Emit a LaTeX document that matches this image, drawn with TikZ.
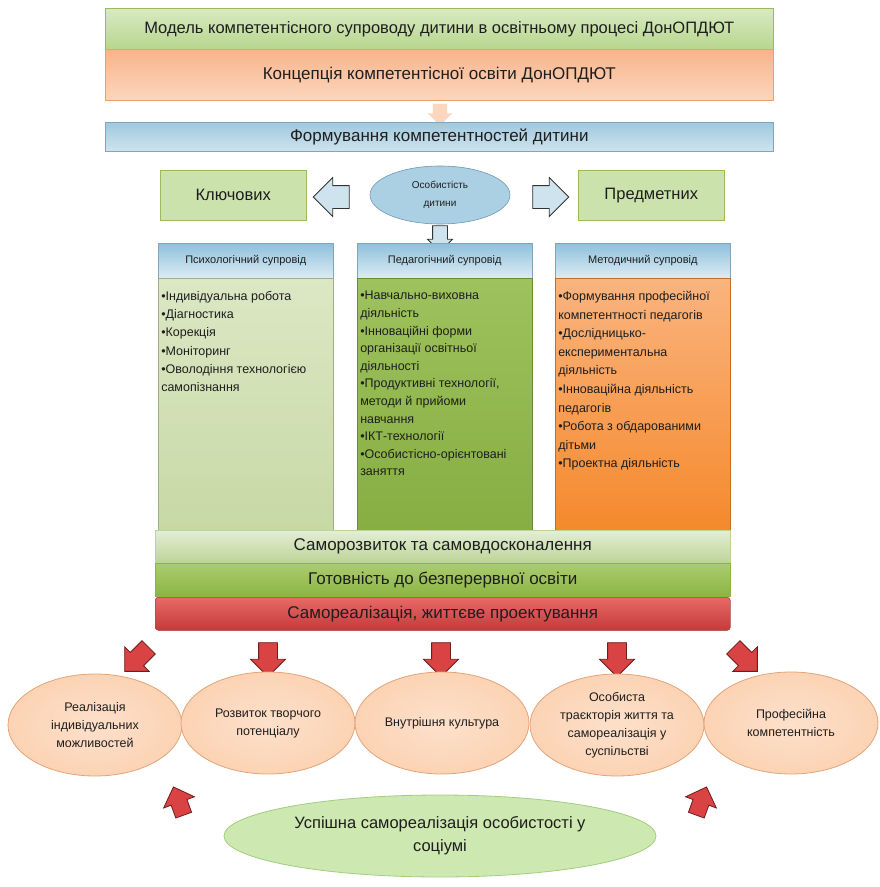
\documentclass[tikz,border=0pt]{standalone}
\usepackage{fontspec}
\setmainfont{Liberation Sans}
\usetikzlibrary{shapes.geometric,shapes.arrows}
\definecolor{gbTop}{HTML}{D8EAC2}
\definecolor{gbBot}{HTML}{B8D68E}
\definecolor{gbLine}{HTML}{9BBB59}
\definecolor{orTop}{HTML}{F8B48A}
\definecolor{orBot}{HTML}{FCD6BD}
\definecolor{orLine}{HTML}{E8A070}
\definecolor{blTop}{HTML}{9FC8DE}
\definecolor{blBot}{HTML}{CFE3EE}
\definecolor{blLine}{HTML}{7FA5BF}
\definecolor{hdTop}{HTML}{8FC0DB}
\definecolor{hdBot}{HTML}{DDECF4}
\definecolor{lgTop}{HTML}{DCE7C4}
\definecolor{lgBot}{HTML}{C7D9A5}
\definecolor{mgTop}{HTML}{9EC25E}
\definecolor{mgBot}{HTML}{86AE42}
\definecolor{rtTop}{HTML}{FAB47E}
\definecolor{rtBot}{HTML}{F5892C}
\definecolor{b1Top}{HTML}{E4EED6}
\definecolor{b1Bot}{HTML}{BCD496}
\definecolor{b2Top}{HTML}{ABCC70}
\definecolor{b2Bot}{HTML}{8BB542}
\definecolor{b3Top}{HTML}{E86A68}
\definecolor{b3Bot}{HTML}{C43A3A}
\definecolor{redFill}{HTML}{D94343}
\definecolor{redLine}{HTML}{6E1C1C}
\definecolor{pcFill}{HTML}{FCD3B4}
\definecolor{pcLine}{HTML}{E2A478}
\definecolor{fnFill}{HTML}{CDE8B0}
\definecolor{fnLine}{HTML}{A3CC80}
\definecolor{elFill}{HTML}{ABD0E3}
\definecolor{elLine}{HTML}{6F98B3}
\definecolor{txt}{HTML}{1E1E1E}
\begin{document}
\begin{tikzpicture}[x=1pt,y=-1pt,
  every node/.style={text=txt},
  box/.style={rectangle, inner sep=0pt, anchor=north west, align=center},
  bandfont/.style={font=\fontsize{17}{20}\selectfont},
  hdr/.style={box, draw=blLine, line width=0.5pt, top color=hdTop, bottom color=hdBot,
     minimum width=175pt, minimum height=35pt, font=\fontsize{11}{13}\selectfont},
  colbody/.style={box, line width=0.5pt, minimum width=175pt, minimum height=252pt},
  redarr/.style={single arrow, draw=redLine, fill=redFill, line width=0.8pt,
     minimum height=34pt, inner xsep=0pt, inner ysep=9pt, single arrow head extend=8pt},
  bluearr/.style={single arrow, draw=black!80, fill=blBot, line width=0.8pt,
     minimum height=36pt, inner xsep=0pt, inner ysep=11pt, single arrow head extend=8pt},
  pe/.style={ellipse, draw=pcLine, line width=0.8pt, inner color=pcFill!70!white, outer color=pcFill,
     minimum width=174pt, minimum height=102pt, inner sep=0pt, align=center,
     font=\fontsize{12.5}{18}\selectfont}
]
\useasboundingbox (0,0) rectangle (880,887);

% top bands
\node[box, draw=gbLine, line width=0.5pt, top color=gbTop, bottom color=gbBot,
  minimum width=668pt, minimum height=41pt, font=\fontsize{16.5}{20}\selectfont] (model) at (105,8)
  {Модель  компетентісного супроводу дитини  в освітньому процесі ДонОПДЮТ};
\node[box, draw=orLine, line width=0.5pt, top color=orTop, bottom color=orBot,
  minimum width=668pt, minimum height=51pt, bandfont] (concept) at (105,49)
  {Концепція компетентісної освіти  ДонОПДЮТ};
\node[single arrow, fill=orBot, draw=none, rotate=-90, minimum height=22pt, inner xsep=0pt,
  inner ysep=7pt, single arrow head extend=5pt] (oarr) at (440,111) {};
\node[box, draw=blLine, line width=0.5pt, top color=blTop, bottom color=blBot,
  minimum width=668pt, minimum height=29pt, bandfont] (form) at (105,122)
  {Формування компетентностей дитини};

% key / subject
\node[box, draw=gbLine, line width=0.5pt, fill=gbTop!60!gbBot,
  minimum width=146pt, minimum height=50pt, font=\fontsize{16.5}{20}\selectfont] (key) at (160,170) {Ключових};
\node[box, draw=gbLine, line width=0.5pt, fill=gbTop!60!gbBot,
  minimum width=146pt, minimum height=50pt, font=\fontsize{16.5}{20}\selectfont] (subj) at (578,170) {Предметних};
\node[ellipse, draw=elLine, line width=0.6pt, fill=elFill, minimum width=140pt, minimum height=58pt,
  inner sep=0pt, align=center, font=\fontsize{10}{18}\selectfont] (pers) at (440,195) {Особистість\\дитини};
\node[bluearr, rotate=180] (larr) at (337,197) {};
\node[bluearr] (rarr) at (545,197) {};
\node[single arrow, draw=black!80, fill=blBot, line width=0.8pt, rotate=-90, minimum height=26pt,
  inner xsep=0pt, inner ysep=7pt, single arrow head extend=5pt] (darr) at (440,235) {};

% column headers
\node[hdr] (h1) at (158,243) {Психологічний супровід};
\node[hdr] (h2) at (357,243) {Педагогічний супровід};
\node[hdr] (h3) at (555,243) {Методичний супровід};

% column bodies
\node[colbody, draw=lgBot!80!black, top color=lgTop, bottom color=lgBot] (c1) at (158,278)
 {\parbox[c][252pt][t]{175pt}{\vspace{13pt}%
  \hspace*{3pt}\parbox[t]{171pt}{\raggedright\fontsize{12.5}{18.2}\selectfont
  •Індивідуальна робота\\
  •Діагностика\\
  •Корекція\\
  •Моніторинг\\
  •Оволодіння технологією\\
  самопізнання}}};
\node[colbody, draw=mgBot!80!black, top color=mgTop, bottom color=mgBot] (c2) at (357,278)
 {\parbox[c][252pt][t]{175pt}{\vspace{13pt}%
  \hspace*{3pt}\parbox[t]{171pt}{\raggedright\fontsize{12.5}{17.6}\selectfont
  •Навчально-виховна\\
  діяльність\\
  •Інноваційні форми\\
  організації освітньої\\
  діяльності\\
  •Продуктивні технології,\\
  методи й прийоми\\
  навчання\\
  •ІКТ-технології\\
  •Особистісно-орієнтовані\\
  заняття}}};
\node[colbody, draw=rtBot!80!black, top color=rtTop, bottom color=rtBot] (c3) at (555,278)
 {\parbox[c][252pt][t]{175pt}{\vspace{13pt}%
  \hspace*{3pt}\parbox[t]{171pt}{\raggedright\fontsize{12.5}{18.6}\selectfont
  •Формування професійної\\
  компетентності педагогів\\
  •Дослідницько-\\
  експериментальна\\
  діяльність\\
  •Інноваційна діяльність\\
  педагогів\\
  •Робота з обдарованими\\
  дітьми\\
  •Проектна діяльність}}};

% lower bands
\node[box, draw=b1Bot, line width=0.5pt, top color=b1Top, bottom color=b1Bot,
  minimum width=575pt, minimum height=33pt, bandfont] (band1) at (155,530)
  {Саморозвиток та самовдосконалення};
\node[box, draw=b2Bot, line width=0.5pt, top color=b2Top, bottom color=b2Bot,
  minimum width=575pt, minimum height=33pt, bandfont] (band2) at (155,563)
  {Готовність до безперервної освіти};
\node[box, draw=b3Bot!80!black, line width=0.5pt, top color=b3Top, bottom color=b3Bot,
  rounded corners=3pt, minimum width=575pt, minimum height=33pt, bandfont] (band3) at (155,597)
  {Самореалізація, життєве проектування};

% red arrows
\node[redarr, rotate=225] (ra1) at (140,656) {};
\node[redarr, rotate=-90] (ra2) at (268,655) {};
\node[redarr, rotate=-90] (ra3) at (441,655) {};
\node[redarr, rotate=-90] (ra4) at (617,655) {};
\node[redarr, rotate=-45] (ra5) at (742,656) {};

% ellipses
\node[pe] (e1) at (95,725) {Реалізація\\індивідуальних\\можливостей};
\node[pe] (e2) at (268,723) {Розвиток творчого\\потенціалу};
\node[pe] (e3) at (442,723) {Внутрішня культура};
\node[pe] (e4) at (617,725) {Особиста\\траєкторія життя  та\\самореалізація у\\суспільстві};
\node[pe] (e5) at (791,723) {Професійна\\компетентність};

% bottom arrows
\node[redarr, rotate=110, minimum height=30pt, inner ysep=8pt] (ba1) at (180,805) {};
\node[redarr, rotate=70, minimum height=30pt, inner ysep=8pt] (ba2) at (700,805) {};

% final ellipse
\node[ellipse, draw=fnLine, line width=0.8pt, fill=fnFill, minimum width=432pt, minimum height=82pt,
  inner sep=0pt, align=center, font=\fontsize{16.5}{23}\selectfont] (final) at (440,836)
  {Успішна самореалізація особистості у\\соціумі};
\end{tikzpicture}
\end{document}
